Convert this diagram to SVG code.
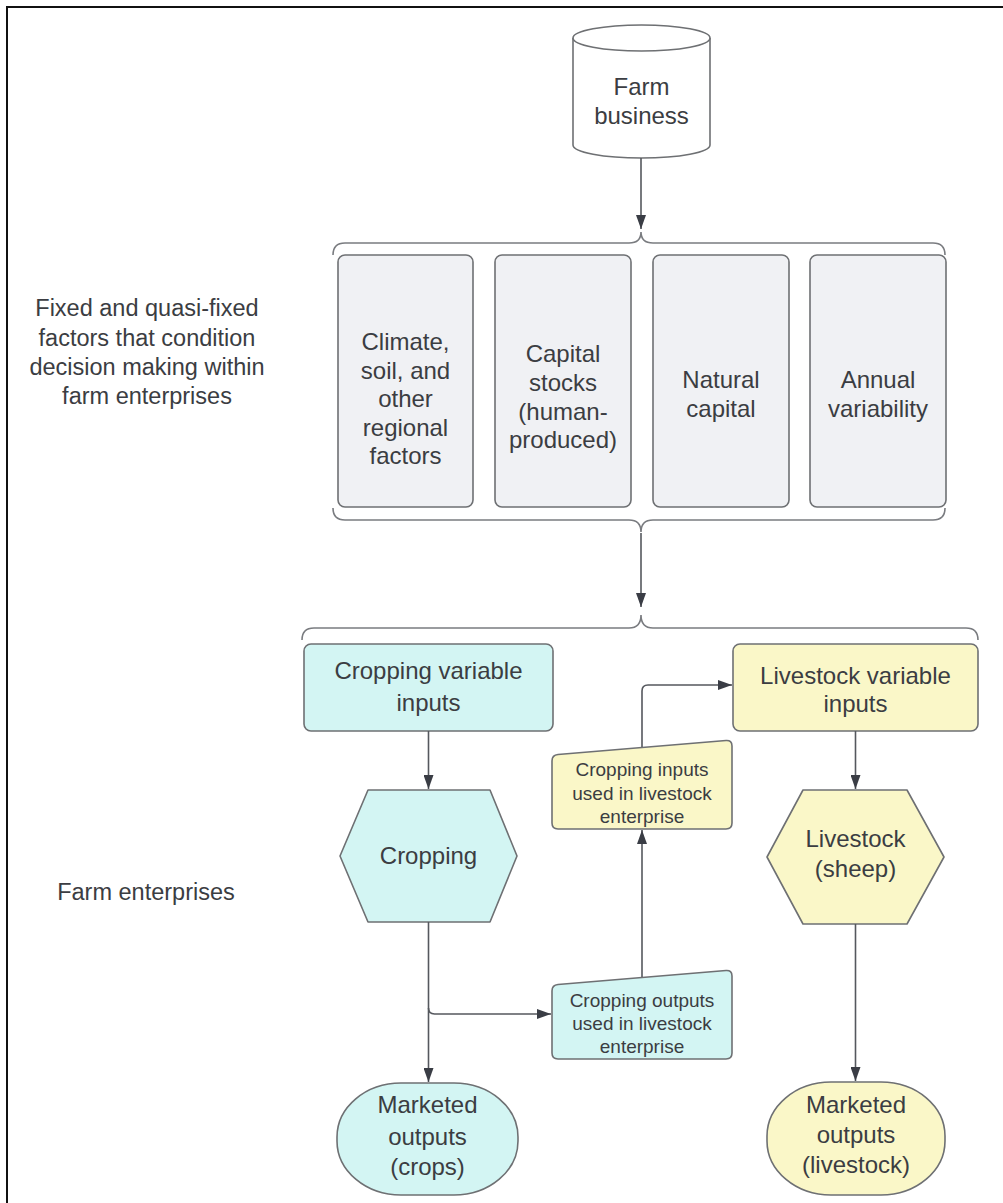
<svg xmlns="http://www.w3.org/2000/svg" width="1003" height="1203" viewBox="0 0 1003 1203">
<defs>
<marker id="arrL" viewBox="0 0 14 10" refX="14" refY="5" markerWidth="14" markerHeight="10" markerUnits="userSpaceOnUse" orient="auto">
<path d="M0,0 L14,5 L0,10 Z" fill="#3a3d45"/>
</marker>
</defs>
<style>
text{font-family:"Liberation Sans",Arial,sans-serif;fill:#3b3d42;text-anchor:middle}
.t{font-size:24px}
.s{font-size:19px}
.lab{font-size:23.5px}
.shape{stroke:#6e7073;stroke-width:1.6}
.gray{fill:#f0f1f4}
.cyan{fill:#d3f5f3}
.yel{fill:#faf7c8}
.conn{fill:none;stroke:#55585e;stroke-width:1.6}
.brace{fill:none;stroke:#7a7c80;stroke-width:1.6}
</style>
<rect x="7" y="7" width="1010" height="1210" fill="#fff" stroke="#111" stroke-width="2"/>

<g id="label-fixed">
<text class="lab" x="147" y="316">Fixed and quasi-fixed</text>
<text class="lab" x="147" y="346">factors that condition</text>
<text class="lab" x="147" y="375">decision making within</text>
<text class="lab" x="147" y="404">farm enterprises</text>
</g>
<g id="label-enterprises">
<text class="lab" x="146" y="900">Farm enterprises</text>
</g>

<g id="farm-business">
<path class="shape" d="M573,38 L573,145 A68.5,13 0 0 0 710,145 L710,38" fill="#fff"/>
<ellipse class="shape" cx="641.5" cy="38" rx="68.5" ry="13" fill="#fff"/>
<text class="t" x="641.5" y="95">Farm</text>
<text class="t" x="641.5" y="124">business</text>
</g>

<g id="braces">
<path class="brace" d="M333,255 Q333,243 345,243 L629,243 Q641,243 641,232 Q641,243 653,243 L933,243 Q945,243 945,255"/>
<path class="brace" d="M333,508 Q333,520 345,520 L629,520 Q641,520 641,532 Q641,520 653,520 L933,520 Q945,520 945,508"/>
<path class="brace" d="M302,640 Q302,628 314,628 L629,628 Q641,628 641,615 Q641,628 653,628 L966,628 Q978,628 978,640"/>
</g>

<g id="climate">
<rect class="shape gray" x="338" y="255" width="135" height="252" rx="7"/>
<text class="t" x="405.5" y="350">Climate,</text>
<text class="t" x="405.5" y="378.5">soil, and</text>
<text class="t" x="405.5" y="407">other</text>
<text class="t" x="405.5" y="435.5">regional</text>
<text class="t" x="405.5" y="464">factors</text>
</g>
<g id="capital-stocks">
<rect class="shape gray" x="495" y="255" width="136" height="252" rx="7"/>
<text class="t" x="563" y="362">Capital</text>
<text class="t" x="563" y="391">stocks</text>
<text class="t" x="563" y="420">(human-</text>
<text class="t" x="563" y="448">produced)</text>
</g>
<g id="natural-capital">
<rect class="shape gray" x="653" y="255" width="136" height="252" rx="7"/>
<text class="t" x="721" y="388">Natural</text>
<text class="t" x="721" y="417">capital</text>
</g>
<g id="annual-variability">
<rect class="shape gray" x="810" y="255" width="136" height="252" rx="7"/>
<text class="t" x="878" y="388">Annual</text>
<text class="t" x="878" y="417">variability</text>
</g>

<g id="cropping-variable-inputs">
<rect class="shape cyan" x="304" y="644" width="249" height="87" rx="7"/>
<text class="t" x="428.5" y="679">Cropping variable</text>
<text class="t" x="428.5" y="711">inputs</text>
</g>
<g id="livestock-variable-inputs">
<rect class="shape yel" x="733" y="644" width="245" height="87" rx="7"/>
<text class="t" x="855.5" y="684">Livestock variable</text>
<text class="t" x="855.5" y="712">inputs</text>
</g>

<g id="cropping">
<polygon class="shape cyan" points="368,790 490,790 517,856 490,922 368,922 340,856" stroke-linejoin="round"/>
<text class="t" x="428.5" y="864">Cropping</text>
</g>
<g id="livestock">
<polygon class="shape yel" points="803,790 907,790 944,857 907,924 803,924 767,857" stroke-linejoin="round"/>
<text class="t" x="855.5" y="847">Livestock</text>
<text class="t" x="855.5" y="877">(sheep)</text>
</g>

<g id="cropping-inputs-used">
<path class="shape yel" d="M558,754.5 L726,740.5 Q732,740 732,746 L732,823 Q732,829 726,829 L558,829 Q552,829 552,823 L552,761 Q552,755 558,754.5 Z"/>
<text class="s" x="642" y="776">Cropping inputs</text>
<text class="s" x="642" y="800">used in livestock</text>
<text class="s" x="642" y="823">enterprise</text>
</g>
<g id="cropping-outputs-used">
<path class="shape cyan" d="M558,984.5 L726,970.5 Q732,970 732,976 L732,1053 Q732,1059 726,1059 L558,1059 Q552,1059 552,1053 L552,991 Q552,985 558,984.5 Z"/>
<text class="s" x="642" y="1007">Cropping outputs</text>
<text class="s" x="642" y="1030">used in livestock</text>
<text class="s" x="642" y="1053">enterprise</text>
</g>

<g id="marketed-crops">
<rect class="shape cyan" x="337" y="1083" width="181" height="112" rx="64" ry="54"/>
<text class="t" x="427.5" y="1113">Marketed</text>
<text class="t" x="427.5" y="1145">outputs</text>
<text class="t" x="427.5" y="1175">(crops)</text>
</g>
<g id="marketed-livestock">
<rect class="shape yel" x="767" y="1082" width="178" height="113" rx="64" ry="54"/>
<text class="t" x="856" y="1113">Marketed</text>
<text class="t" x="856" y="1143">outputs</text>
<text class="t" x="856" y="1173">(livestock)</text>
</g>

<g id="connectors">
<line class="conn" x1="641" y1="158" x2="641" y2="229" marker-end="url(#arrL)"/>
<line class="conn" x1="641" y1="533" x2="641" y2="607" marker-end="url(#arrL)"/>
<line class="conn" x1="428.5" y1="731" x2="428.5" y2="789" marker-end="url(#arrL)"/>
<path class="conn" d="M428.5,922 L428.5,1082" marker-end="url(#arrL)"/>
<path class="conn" d="M428.5,1008 Q428.5,1014 434.5,1014 L551,1014" marker-end="url(#arrL)"/>
<line class="conn" x1="642" y1="977" x2="642" y2="830" marker-end="url(#arrL)"/>
<path class="conn" d="M642,747 L642,691 Q642,685 648,685 L732,685" marker-end="url(#arrL)"/>
<line class="conn" x1="855.5" y1="731" x2="855.5" y2="789" marker-end="url(#arrL)"/>
<line class="conn" x1="855.5" y1="924" x2="855.5" y2="1081" marker-end="url(#arrL)"/>
</g>
</svg>
